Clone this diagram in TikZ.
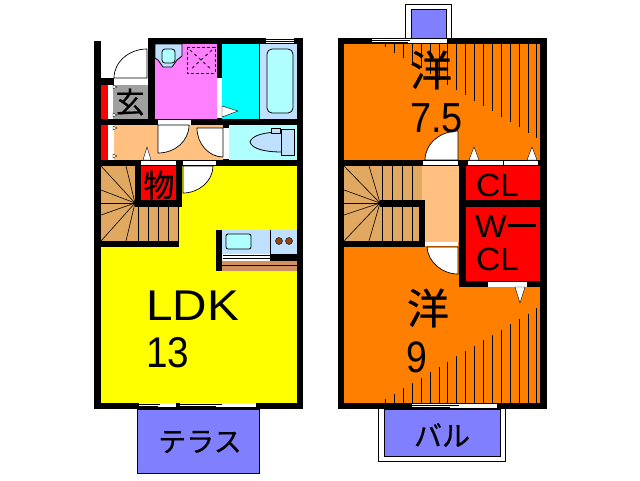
\documentclass[tikz,border=0pt]{standalone}
\usepackage{fontspec}
\usepackage{graphicx}
\setmainfont{Liberation Sans}
\newfontfamily\jpfont[FakeBold=0.6]{Noto Sans CJK JP}
\definecolor{orangeroom}{RGB}{255,128,0}
\definecolor{hallpeach}{RGB}{255,192,128}
\definecolor{stairbrown}{RGB}{224,168,96}
\definecolor{paleblue}{RGB}{192,224,255}
\definecolor{palecyan}{RGB}{176,255,255}
\definecolor{pinkroom}{RGB}{255,128,255}
\definecolor{balcony}{RGB}{128,128,255}
\definecolor{graybox}{RGB}{160,160,160}
\definecolor{stripbrown}{RGB}{208,144,96}
\definecolor{burner}{RGB}{144,72,16}
\definecolor{pureyellow}{RGB}{255,255,0}
\definecolor{purecyan}{RGB}{0,255,255}
\definecolor{purered}{RGB}{255,0,0}
\newcommand{\blockat}[5]{\fill[#5] (#1,#2) rectangle (#3,#4);}
\tikzset{
  thin line/.style={draw=black,line width=0.8pt},
  tread/.style={draw=black,line width=0.6pt},
  doorpie/.style={fill=white,draw=black,line width=0.7pt},
  tick/.style={draw=black,line width=1pt},
  marker/.style={fill=white,draw=black,line width=0.4pt},
  jplabel/.style={inner sep=0pt,font=\jpfont\fontsize{#1}{#1}\selectfont},
  latinlabel/.style={inner sep=0pt,anchor=base west,font=\fontsize{#1}{#1}\selectfont},
}
\begin{document}
\begin{tikzpicture}[x=1pt,y=-1pt]
\useasboundingbox (0,0) rectangle (640,480);
\fill[white] (0,0) rectangle (640,480);

% ===== LEFT UNIT rooms =====
\blockat{101}{160}{297}{403}{pureyellow}
\blockat{101}{85}{108}{119}{purered}
\blockat{101}{125}{108}{160}{purered}
\blockat{108}{85}{113}{119}{white}
\blockat{108}{125}{114}{160}{white}
\blockat{113}{85}{148}{119}{graybox}
\blockat{155}{44}{217}{119}{pinkroom}
\blockat{222}{44}{259}{119}{purecyan}
\blockat{259}{44}{297}{119}{paleblue}
\blockat{114}{125}{223}{160}{hallpeach}
\blockat{229}{125}{297}{160}{palecyan}
\blockat{101}{166}{178}{241}{stairbrown}
\blockat{141}{166}{176}{200}{purered}

% stairs left
\foreach \ex/\ey in {101/166,126/166,101/190,101/203,101/215,101/241,126/241}
  \draw[tread] (135,203) -- (\ex,\ey);
\foreach \tx in {138,148,158,168,178}
  \draw[tread] (\tx,207) -- (\tx,241);

% walls left
\blockat{94}{41}{101}{409}{black}
\blockat{94}{78}{113}{85}{black}
\blockat{94}{119}{158}{125}{black}
\blockat{94}{160}{182}{166}{black}
\blockat{94}{403}{303}{409}{black}
\blockat{297}{38}{303}{409}{black}
\blockat{148}{38}{303}{44}{black}
\blockat{148}{38}{155}{125}{black}
\blockat{217}{44}{222}{119}{black}
\blockat{148}{119}{303}{125}{black}
\blockat{223}{125}{229}{166}{black}
\blockat{182}{160}{297}{166}{black}
\blockat{135}{160}{141}{207}{black}
\blockat{176}{160}{182}{207}{black}
\blockat{135}{200}{182}{207}{black}
\blockat{94}{241}{179}{247}{black}

% white strips and doors left
\blockat{113}{78}{147}{85}{white}
\draw[tread] (113,78) -- (113,85);
\blockat{158}{120}{191}{125}{white}
\blockat{141}{161}{176}{165}{white}
\blockat{183}{161}{216}{165}{white}
\blockat{217}{78}{222}{118}{white}
\blockat{223}{128}{229}{159}{white}
\blockat{139}{403}{176}{407}{white}
\blockat{180}{403}{256}{407}{white}
\blockat{266}{38}{294}{43}{white}
\draw[thin line] (266,39.5) -- (294,39.5) (266,41.5) -- (294,41.5);
\draw[tread] (139,404.5) -- (160,404.5) (180,404.5) -- (222,404.5);
\draw[tread] (139,406) -- (158,406) (180,406) -- (216,406);
\draw[doorpie] (147,78) -- (114,78) .. controls (114,62) and (129,49) .. (147,49) -- cycle;
\draw[doorpie] (158,125) -- (189,125) .. controls (189,141) and (175,153) .. (158,153) -- cycle;
\draw[doorpie] (223,128) -- (197,128) .. controls (197,144) and (209,157) .. (223,157) -- cycle;
\draw[doorpie] (183,166) -- (213,166) .. controls (213,181) and (199,193) .. (183,193) -- cycle;
\draw[marker] (147,147) -- (143,160) -- (151,160) -- cycle;
\draw[marker] (222,106) -- (238,111) -- (222,117) -- cycle;
\foreach \my in {87,115,128,156}
  \draw[marker] (113,\my-2) -- (117,\my) -- (113,\my+2) -- cycle;

% bathroom fixtures
\draw[thin line,fill=palecyan,rounded corners=5pt] (267,49) rectangle (293,113);
\draw[line width=0.8pt] (259.5,44) -- (259.5,119);
\draw[thin line,fill=paleblue] (155,44) -- (182,44) -- (182,56) -- (177,60) -- (172,67) -- (163,67) -- (158,60) -- (155,58) -- cycle;
\draw[thin line,fill=palecyan,rounded corners=3pt] (162,49) rectangle (175,63);
\draw[line width=0.8pt,dash pattern=on 3pt off 2pt] (187,47) rectangle (215,73);
\draw[line width=0.8pt,dash pattern=on 3pt off 3pt] (190,50) -- (212,70) (212,50) -- (190,70);

% toilet
\draw[thin line,fill=paleblue] (250,142) .. controls (252,135) and (265,132) .. (282,132) -- (282,152) .. controls (265,152) and (252,149) .. (250,142) -- cycle;
\draw[thin line,fill=paleblue] (281,129) rectangle (294,155);
\draw[thin line,fill=paleblue] (271,128) rectangle (280,133);

% kitchen
\blockat{216}{230}{222}{271}{black}
\blockat{222}{230}{297}{254}{paleblue}
\draw[thin line] (270,230) -- (270,254);
\draw[thin line,fill=palecyan,rounded corners=2pt] (226,234) rectangle (251,249);
\fill[burner,draw=black,line width=0.4pt] (279,241) circle[radius=3.5];
\fill[burner,draw=black,line width=0.4pt] (289,241) circle[radius=3.5];
\blockat{222}{254}{297}{261}{black}
\blockat{222}{254}{270}{261}{white}
\draw[tread] (222.5,255.5) -- (270,255.5) (222.5,258.5) -- (270,258.5);
\blockat{222}{261}{297}{271}{stripbrown}
\draw[tread] (222,265.5) -- (297,265.5);

% terrace
\draw[line width=0.8pt,fill=balcony] (137.5,409) rectangle (259.5,473);

% ===== RIGHT UNIT rooms =====
\blockat{344}{44}{540}{403}{orangeroom}
\foreach \lx/\ly in {385/47,394/53,403/58,412/63,421/68,430/74,439/80,447/85,456/90,465/95,474/101,483/106,492/111,501/117,510/122,519/127,528/133,536/138}
  \draw[tick] (\lx,44) -- (\lx,\ly);
\foreach \lx/\ly in {385/399,394/394,403/388,412/383,421/378,430/372,439/367,447/362,456/356,465/351,474/346,483/340,492/335,501/330,510/324,519/319,528/314,536/308}
  \draw[tick] (\lx,\ly) -- (\lx,403);
\blockat{422}{166}{459}{242}{hallpeach}
\blockat{344}{166}{422}{241}{stairbrown}
\foreach \ex/\ey in {344/166,369/166,344/190,344/203,344/215,344/241,369/241}
  \draw[tread] (380,203) -- (\ex,\ey);
\foreach \tx in {382,392,402,412} {
  \draw[tread] (\tx,166) -- (\tx,200);
  \draw[tread] (\tx,207) -- (\tx,241);
}
\blockat{466}{166}{540}{200}{purered}
\blockat{466}{207}{540}{281}{purered}

% doors by the hall (right)
\draw[doorpie] (458,160) -- (425,160) .. controls (425,144) and (440,131) .. (458,131) -- cycle;
\draw[doorpie] (458,247) -- (427,247) .. controls (428,262) and (442,274) .. (458,274) -- cycle;

% walls right
\blockat{338}{38}{344}{409}{black}
\blockat{540}{38}{547}{409}{black}
\blockat{338}{38}{547}{44}{black}
\blockat{338}{403}{547}{409}{black}
\blockat{338}{160}{547}{166}{black}
\blockat{338}{241}{425}{247}{black}
\blockat{380}{200}{425}{207}{black}
\blockat{419}{200}{425}{247}{black}
\blockat{459}{160}{466}{287}{black}
\blockat{466}{200}{540}{207}{black}
\blockat{466}{281}{540}{287}{black}

% strips right
\blockat{423}{161}{458}{165}{white}
\blockat{468}{161}{503}{165}{white}
\blockat{504}{161}{538}{165}{white}
\blockat{425}{242}{458}{246}{white}
\blockat{488}{282}{527}{287}{white}
\blockat{372}{39}{447}{43}{white}
\draw[tread] (372,40.5) -- (410,40.5) (372,42) -- (408,42);
\blockat{412}{404}{497}{408}{white}
\draw[tread] (412,405.5) -- (459,405.5) (412,407) -- (450,407);
\draw[marker] (474,147) -- (469,160) -- (479,160) -- cycle;
\draw[marker] (532,147) -- (527,160) -- (537,160) -- cycle;
\draw[marker] (520,303) -- (515,287) -- (525,287) -- cycle;

% balconies right
\draw[line width=0.8pt] (405.5,38) -- (405.5,4.5) -- (451.5,4.5) -- (451.5,38);
\draw[line width=0.8pt,fill=balcony] (411.5,38) -- (411.5,9.5) -- (446.5,9.5) -- (446.5,38) -- cycle;
\draw[line width=0.8pt] (378.5,409) -- (378.5,461.5) -- (505.5,461.5) -- (505.5,409);
\draw[line width=0.8pt,fill=balcony] (384.5,409) -- (384.5,456.5) -- (500.5,456.5) -- (500.5,409) -- cycle;

% ===== labels =====
\node[jplabel=29] (genkan) at (130,102) {玄};
\node[jplabel=31] (mono) at (159,185) {物};
\node[latinlabel=43] (ldk) at (146,320) {\scalebox{1.11}[1]{LDK}};
\node[latinlabel=43] (ldknum) at (146,367) {\scalebox{0.9}[1]{13}};
\node[jplabel=28] (terrace) at (200,442) {テラス};
\node[jplabel=42] (yo1) at (431,70) {洋};
\node[latinlabel=42] (yo1num) at (410,132) {\scalebox{0.9}[1]{7.5}};
\node[jplabel=42] (yo2) at (428,308) {洋};
\node[latinlabel=44] (yo2num) at (406,372) {\scalebox{0.85}[1]{9}};
\node[latinlabel=32] (cl) at (476,196) {\scalebox{1.05}[1]{CL}};
\node[latinlabel=32] (wcl) at (475,237) {\scalebox{1.05}[1]{W}};
\fill[black] (508,224) rectangle (536,227);
\node[latinlabel=32] (cl2) at (476,270) {\scalebox{1.05}[1]{CL}};
\node[jplabel=28] (bal) at (442,435) {バル};
\end{tikzpicture}
\end{document}
